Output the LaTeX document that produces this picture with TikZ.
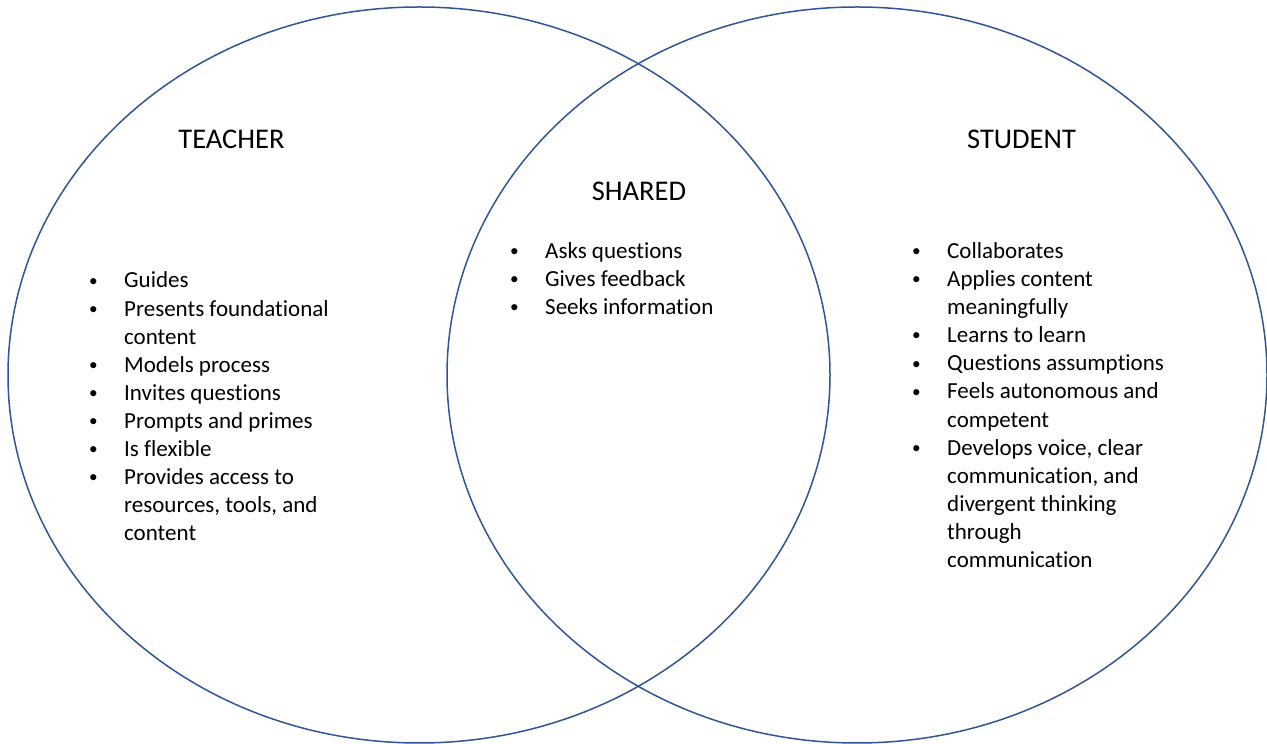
\documentclass[tikz,border=0pt]{standalone}
\usepackage{fontspec}
\setmainfont{Carlito}[Ligatures={NoCommon}]
\usepackage{array}
\usepackage{graphicx}
\definecolor{ringblue}{HTML}{2F5597}
\newcommand{\bul}{\makebox[37pt][l]{\hspace{2pt}\raisebox{1.8pt}{\scalebox{0.75}{•}}}}
\newcommand{\nob}{\makebox[37pt][l]{}}
\begin{document}
\begin{tikzpicture}[x=1pt,y=1pt,
  ring/.style={draw=ringblue,line width=1.5pt},
  heading/.style={inner sep=0pt,anchor=base,font=\fontsize{28.5}{34}\selectfont},
  listbox/.style={inner sep=0pt,anchor=base west,font=\fontsize{23}{28.1}\selectfont,align=left}]
\useasboundingbox (0,0) rectangle (1267,744);
\draw[ring] (419,369) ellipse [x radius=411, y radius=368];
\draw[ring] (857,369) ellipse [x radius=410, y radius=368];
\node[heading] (teacher) at (231.5,595) {TEACHER};
\node[heading] (student) at (1021.5,595) {STUDENT};
\node[heading] (shared) at (639,543) {SHARED};
\node[listbox] (tlist) at (87,456) {\begin{tabular}[t]{@{}l@{}}
\bul Guides\\
\bul Presents foundational\\
\nob content\\
\bul Models process\\
\bul Invites questions\\
\bul Prompts and primes\\
\bul Is flexible\\
\bul Provides access to\\
\nob resources, tools, and\\
\nob content
\end{tabular}};
\node[listbox] (slist) at (508,485.5) {\begin{tabular}[t]{@{}l@{}}
\bul Asks questions\\
\bul Gives feedback\\
\bul Seeks information
\end{tabular}};
\node[listbox] (rlist) at (910,485.5) {\begin{tabular}[t]{@{}l@{}}
\bul Collaborates\\
\bul Applies content\\
\nob meaningfully\\
\bul Learns to learn\\
\bul Questions assumptions\\
\bul Feels autonomous and\\
\nob competent\\
\bul Develops voice, clear\\
\nob communication, and\\
\nob divergent thinking\\
\nob through\\
\nob communication
\end{tabular}};
\end{tikzpicture}
\end{document}
